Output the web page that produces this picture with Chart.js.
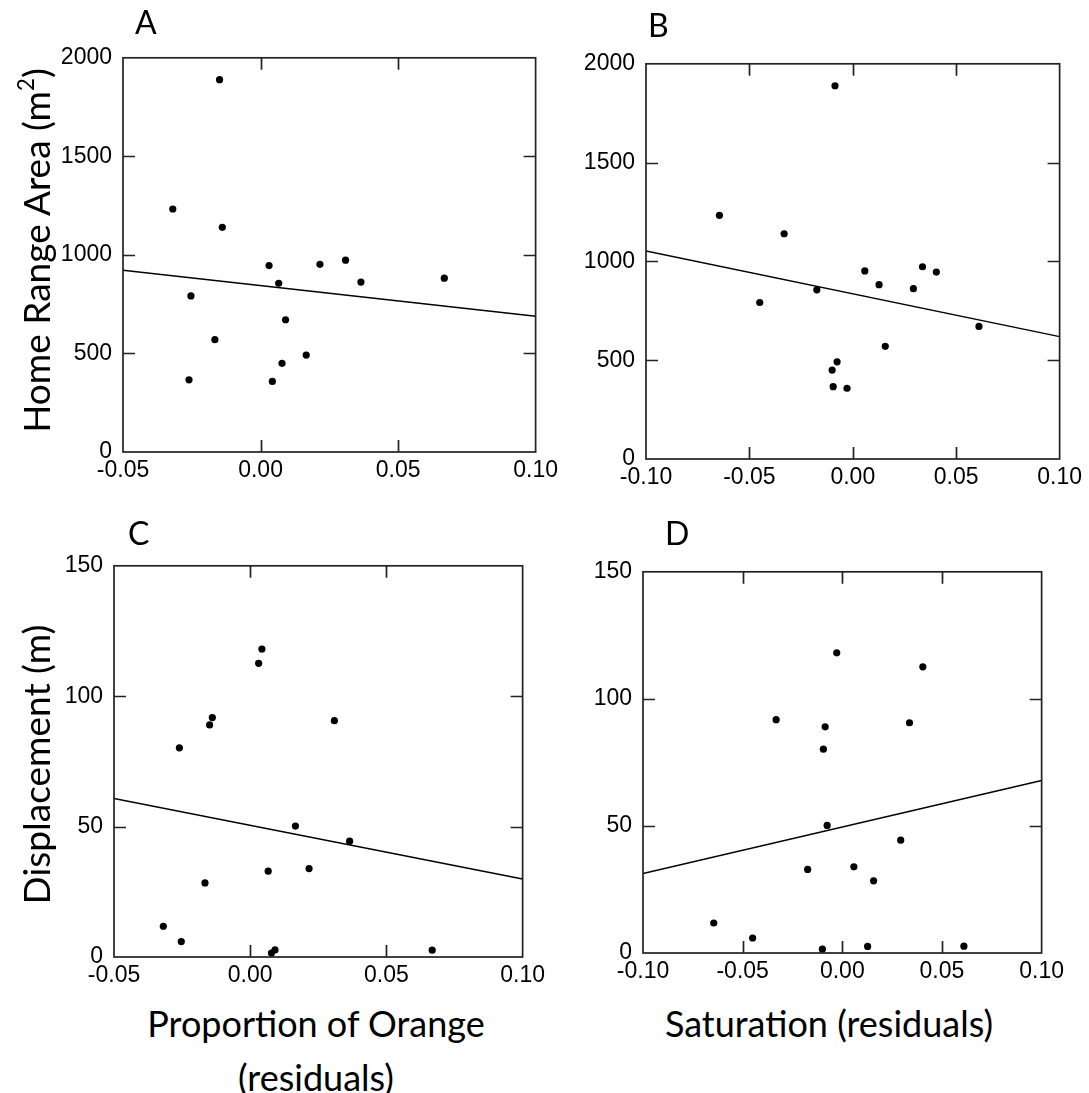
<!DOCTYPE html>
<html>
<head>
<meta charset="utf-8">
<script src="https://cdn.jsdelivr.net/npm/chart.js@4.4.0/dist/chart.umd.min.js"></script>
<style>
  body { margin: 0; width: 1089px; height: 1093px; background: #fff; overflow: hidden; position: relative; font-family: Lato, "Open Sans", sans-serif; }
  canvas { position: absolute; }
  .lbl { position: absolute; color: #000; white-space: nowrap; line-height: 1; }
  .letter { font-size: 32px; }
  .xtitle { font-size: 36px; width: 440px; text-align: center; }
  .ytitle { font-size: 37px; width: 460px; height: 37px; text-align: center; transform: rotate(-90deg); transform-origin: center center; }
  sup { font-size: 0.6em; vertical-align: 0.7em; line-height: 0; }
</style>
</head>
<body>

<canvas id="panelA" width="510" height="454" style="left:53px;top:33px"></canvas>
<canvas id="panelB" width="511" height="455" style="left:576px;top:39px"></canvas>
<canvas id="panelC" width="506" height="451" style="left:44px;top:541px"></canvas>
<canvas id="panelD" width="496" height="441" style="left:573px;top:547px"></canvas>

<div class="lbl letter" style="left:135px;top:6px">A</div>
<div class="lbl letter" style="left:648px;top:9px">B</div>
<div class="lbl letter" style="left:128px;top:517px">C</div>
<div class="lbl letter" style="left:665px;top:517px">D</div>

<div class="lbl ytitle" style="left:-195px;top:232px">Home Range Area (m<sup>2</sup>)</div>
<div class="lbl ytitle" style="left:-195px;top:746px">Displacement (m)</div>

<div class="lbl xtitle" style="left:96px;top:1005px">Proportion of Orange</div>
<div class="lbl xtitle" style="left:96px;top:1059px">(residuals)</div>
<div class="lbl xtitle" style="left:609px;top:1005px">Saturation (residuals)</div>

<script>
// one entry per individual, same order in every array
const orangeResid  = [-0.0149, -0.0319, -0.0139, 0.0031, 0.0216, 0.0309, 0.0066, 0.0365, 0.0668, -0.0253, 0.0091, -0.0166, 0.0166, 0.0078, -0.0260, 0.0043];
const satResid     = [-0.0086, -0.0645, -0.0332, 0.0404, 0.0058, 0.0337, -0.0174, 0.0293, 0.0127, -0.0450, 0.0610, 0.0157, -0.0076, -0.0100, -0.0095, -0.0028];
const homeRange    = [1889, 1233, 1140, 946, 952, 973, 856, 862, 882, 792, 671, 570, 492, 450, 366, 358];
const displacement = [89.0, 11.8, 91.8, 112.6, 33.9, 90.6, 32.9, 44.4, 2.6, 5.9, 2.7, 28.4, 50.2, 1.5, 80.2, 118.1];

// regression lines, value at each end of the x range
const orangeRange   = [-0.05, 0.10];
const satRange      = [-0.10, 0.10];
const homeFitOrange = [922, 689];
const homeFitSat    = [1053, 619];
const dispFitOrange = [60.8, 29.9];
const dispFitSat    = [31.3, 67.9];

// tick labels
const orangeTicks = [-0.05, 0.00, 0.05, 0.10];
const satTicks    = [-0.10, -0.05, 0.00, 0.05, 0.10];
const homeTicks   = [0, 500, 1000, 1500, 2000];
const dispTicks   = [0, 50, 100, 150];

const tickFont = { family: '"Liberation Sans", Arial, sans-serif', size: 23 };

// box round the plot plus short inward ticks on all four sides
const frameTicks = {
  id: 'frameTicks',
  afterDatasetsDraw(chart) {
    const { ctx, chartArea: a, scales: { x, y } } = chart;
    const len = 12;
    ctx.save();
    ctx.strokeStyle = '#222';
    ctx.lineWidth = 1.7;
    ctx.strokeRect(a.left, a.top, a.right - a.left, a.bottom - a.top);
    ctx.beginPath();
    x.ticks.forEach(t => {
      if (t.value <= x.min || t.value >= x.max) return;
      const px = Math.round(x.getPixelForValue(t.value)) + 0.5;
      ctx.moveTo(px, a.bottom); ctx.lineTo(px, a.bottom - len);
      ctx.moveTo(px, a.top); ctx.lineTo(px, a.top + len);
    });
    y.ticks.forEach(t => {
      if (t.value <= y.min || t.value >= y.max) return;
      const py = Math.round(y.getPixelForValue(t.value)) + 0.5;
      ctx.moveTo(a.left, py); ctx.lineTo(a.left + len, py);
      ctx.moveTo(a.right, py); ctx.lineTo(a.right - len, py);
    });
    ctx.stroke();
    ctx.restore();
  }
};

function makePanel(id, xs, ys, xRange, fit, xTicks, yTicks) {
  const pts = xs.map((v, i) => ({ x: v, y: ys[i] }));
  new Chart(document.getElementById(id), {
    type: 'scatter',
    data: {
      datasets: [{
        data: pts,
        pointRadius: 3.6,
        pointBackgroundColor: '#000',
        pointBorderWidth: 0
      }, {
        type: 'line',
        data: [{ x: xRange[0], y: fit[0] }, { x: xRange[1], y: fit[1] }],
        borderColor: '#000',
        borderWidth: 1.4,
        pointRadius: 0,
        fill: false
      }]
    },
    options: {
      responsive: false,
      animation: false,
      layout: { padding: { left: 0, top: 15, right: 26, bottom: 0 } },
      plugins: { legend: { display: false }, tooltip: { enabled: false } },
      scales: {
        x: {
          type: 'linear',
          min: xRange[0],
          max: xRange[1],
          afterBuildTicks: s => { s.ticks = xTicks.map(v => ({ value: v })); },
          afterFit: s => { s.height = 35; },
          grid: { display: false, drawTicks: false },
          border: { display: false },
          ticks: { autoSkip: false, maxRotation: 0, padding: 5, color: '#000', font: tickFont,
                   callback: v => v.toFixed(2) }
        },
        y: {
          min: yTicks[0],
          max: yTicks[yTicks.length - 1],
          afterBuildTicks: s => { s.ticks = yTicks.map(v => ({ value: v })); },
          afterFit: s => { s.width = 70; },
          grid: { display: false, drawTicks: false },
          border: { display: false },
          ticks: { autoSkip: false, padding: 11, color: '#000', font: tickFont,
                   callback: v => String(v) }
        }
      }
    },
    plugins: [frameTicks]
  });
}

makePanel('panelA', orangeResid, homeRange, orangeRange, homeFitOrange, orangeTicks, homeTicks);
makePanel('panelB', satResid, homeRange, satRange, homeFitSat, satTicks, homeTicks);
makePanel('panelC', orangeResid, displacement, orangeRange, dispFitOrange, orangeTicks, dispTicks);
makePanel('panelD', satResid, displacement, satRange, dispFitSat, satTicks, dispTicks);
</script>
</body>
</html>
